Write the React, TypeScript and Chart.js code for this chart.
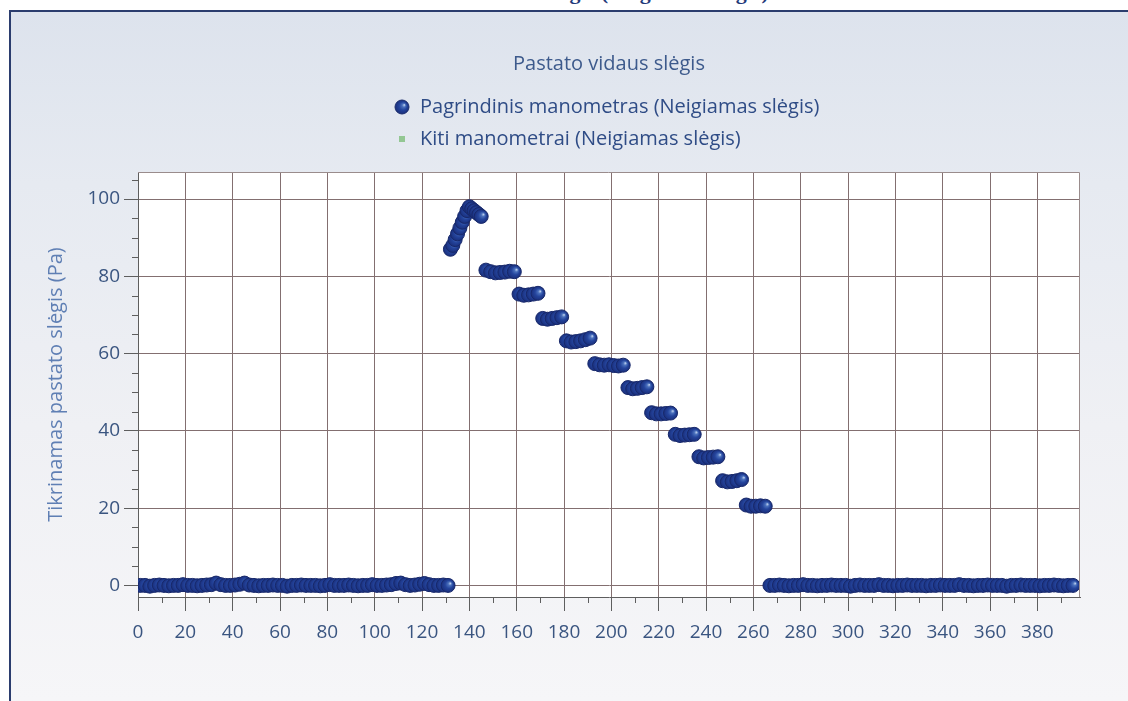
import React, { useEffect, useRef } from 'react';
import { Chart, registerables } from 'chart.js';

Chart.register(...registerables);

const pageHeading = 'Pastato vidaus slėgis (Neigiamas slėgis)';
const chartTitle = 'Pastato vidaus slėgis';
const yAxisTitle = 'Tikrinamas pastato slėgis (Pa)';
const seriesLabels = ['Pagrindinis manometras (Neigiamas slėgis)', 'Kiti manometrai (Neigiamas slėgis)'];

const xMajorTicks = [0, 20, 40, 60, 80, 100, 120, 140, 160, 180, 200, 220, 240, 260, 280, 300, 320, 340, 360, 380];
const xMinorTicks = [10, 30, 50, 70, 90, 110, 130, 150, 170, 190, 210, 230, 250, 270, 290, 310, 330, 350, 370, 390];
const yMajorTicks = [0, 20, 40, 60, 80, 100];
const yMinorTicks = [5, 10, 15, 25, 30, 35, 45, 50, 55, 65, 70, 75, 85, 90, 95, 105];

const timeValues = [
  1, 3, 5, 7, 9, 11, 13, 15, 17, 19, 21,
  23, 25, 27, 29, 31, 33, 35, 37, 39, 41, 43,
  45, 47, 49, 51, 53, 55, 57, 59, 61, 63, 65,
  67, 69, 71, 73, 75, 77, 79, 81, 83, 85, 87,
  89, 91, 93, 95, 97, 99, 101, 103, 105, 107, 109,
  111, 113, 115, 117, 119, 121, 123, 125, 127, 129, 131,
  132, 133, 134, 135, 136, 137, 138, 139, 140, 141, 142, 143, 144, 145,
  147, 149, 151, 153, 155, 157, 159,
  161, 163, 165, 167, 169,
  171, 173, 175, 177, 179,
  181, 183, 185, 187, 189, 191,
  193, 195, 197, 199, 201, 203, 205,
  207, 209, 211, 213, 215,
  217, 219, 221, 223, 225,
  227, 229, 231, 233, 235,
  237, 239, 241, 243, 245,
  247, 249, 251, 253, 255,
  257, 259, 261, 263, 265,
  267, 269, 271, 273, 275, 277, 279, 281, 283, 285, 287, 289, 291,
  293, 295, 297, 299, 301, 303, 305, 307, 309, 311, 313, 315, 317,
  319, 321, 323, 325, 327, 329, 331, 333, 335, 337, 339, 341, 343,
  345, 347, 349, 351, 353, 355, 357, 359, 361, 363, 365, 367, 369,
  371, 373, 375, 377, 379, 381, 383, 385, 387, 389, 391, 393, 395,
];

const mainPressure = [
  0, 0, -0.2, 0, 0.1, 0, -0.1, 0, 0, 0.2, 0,
  0, -0.1, 0, 0.1, 0.2, 0.6, 0.2, 0, 0, 0.1, 0.3,
  0.6, 0.1, 0, -0.1, 0, 0, 0.1, 0, 0, -0.2, 0,
  0, 0.1, 0, 0, 0, -0.1, 0, 0.2, 0, 0, 0,
  0.1, 0, -0.1, 0, 0, 0.2, 0, 0, 0.1, 0.2, 0.5,
  0.6, 0.2, 0, 0.1, 0.3, 0.5, 0.2, 0, 0, 0.1, 0,
  87, 88, 89.5, 91, 92.5, 94, 95.5, 97, 98, 97.5, 97, 96.5, 96, 95.5,
  81.6, 81.2, 80.9, 81, 81.1, 81.3, 81.2,
  75.4, 75.1, 75.2, 75.4, 75.6,
  69.1, 68.9, 69.1, 69.3, 69.5,
  63.3, 63, 63.1, 63.3, 63.6, 64,
  57.4, 57.1, 57, 57.1, 56.9, 56.8, 57,
  51.2, 50.9, 51, 51.2, 51.4,
  44.7, 44.4, 44.4, 44.5, 44.6,
  39.1, 38.8, 38.9, 39, 39.1,
  33.3, 33, 33.1, 33.2, 33.3,
  27.1, 26.8, 26.9, 27.1, 27.4,
  20.8, 20.5, 20.5, 20.6, 20.5,
  0, 0, 0.1, 0, -0.1, 0, 0, 0.2, 0, 0, -0.1, 0, 0,
  0.1, 0, 0, 0, -0.2, 0, 0.1, 0, 0, 0, 0.2, 0, 0,
  -0.1, 0, 0, 0.1, 0, 0, 0, -0.1, 0, 0, 0.1, 0, 0,
  0, 0.2, 0, 0, -0.1, 0, 0, 0.1, 0, 0, 0, -0.2, 0,
  0, 0.1, 0, 0, 0, -0.1, 0, 0, 0.1, 0, -0.1, 0, 0,
];

const otherPressure: number[] = [];

const FONT = "'Open Sans', 'DejaVu Sans', sans-serif";
const TICK_COLOR = '#3a5580';
const GRID_COLOR = '#836f70';
const POINT_FALLBACK = '#22429a';

function sphereGradient(ctx: CanvasRenderingContext2D, x: number, y: number, r: number) {
  const g = ctx.createRadialGradient(x + r * 0.35, y - r * 0.3, 0.3, x, y, r);
  g.addColorStop(0, '#b4c8ea');
  g.addColorStop(0.22, '#4a70bc');
  g.addColorStop(0.55, '#24449c');
  g.addColorStop(1, '#1a2f7c');
  return g;
}

const decorPlugin = {
  id: 'decor',
  beforeDraw(chart: any) {
    const { ctx, chartArea: a } = chart;
    ctx.save();
    ctx.fillStyle = '#ffffff';
    ctx.fillRect(a.left, a.top, a.right - a.left, a.bottom - a.top);
    ctx.restore();
  },
  afterDraw(chart: any) {
    const { ctx, chartArea: a, scales } = chart;
    ctx.save();
    ctx.strokeStyle = '#9a8c8c';
    ctx.lineWidth = 1;
    ctx.beginPath();
    ctx.moveTo(a.left, a.top + 0.5);
    ctx.lineTo(a.right - 0.5, a.top + 0.5);
    ctx.lineTo(a.right - 0.5, a.bottom);
    ctx.stroke();
    ctx.strokeStyle = '#5e5e5e';
    ctx.beginPath();
    xMinorTicks.forEach((v) => {
      const px = Math.round(scales.x.getPixelForValue(v)) + 0.5;
      ctx.moveTo(px, a.bottom);
      ctx.lineTo(px, a.bottom + 6);
    });
    yMinorTicks.forEach((v) => {
      const py = Math.round(scales.y.getPixelForValue(v)) + 0.5;
      ctx.moveTo(a.left - 6, py);
      ctx.lineTo(a.left, py);
    });
    ctx.stroke();

    const lx = 402;
    const rows = [107, 139];
    ctx.font = `20px ${FONT}`;
    ctx.textBaseline = 'middle';
    ctx.textAlign = 'left';
    chart.data.datasets.forEach((ds: any, i: number) => {
      const y = rows[i];
      if (i === 0) {
        ctx.beginPath();
        ctx.arc(lx, y, 7, 0, Math.PI * 2);
        ctx.fillStyle = sphereGradient(ctx, lx, y, 7);
        ctx.fill();
        ctx.strokeStyle = '#1a2c6c';
        ctx.lineWidth = 1;
        ctx.stroke();
      } else {
        ctx.fillStyle = '#93c793';
        ctx.fillRect(lx - 3, y - 3, 6, 6);
      }
      ctx.fillStyle = '#2f4c86';
      ctx.fillText(ds.label, 420, y);
    });
    ctx.restore();
  },
};

export default function App() {
  const canvasRef = useRef<HTMLCanvasElement | null>(null);

  useEffect(() => {
    const canvas = canvasRef.current;
    if (!canvas) return;
    const mainPoints = timeValues.map((t, i) => ({ x: t, y: mainPressure[i] }));
    const otherPoints = otherPressure.map((v, i) => ({ x: timeValues[i], y: v }));

    const chart = new Chart(canvas, {
      type: 'scatter',
      data: {
        datasets: [
          {
            label: seriesLabels[0],
            data: mainPoints,
            pointRadius: 7,
            pointHoverRadius: 7,
            pointBorderWidth: 1,
            pointBorderColor: '#17286a',
            pointBackgroundColor: (c: any) => {
              if (c.type !== 'data' || !c.parsed) return POINT_FALLBACK;
              const ch = c.chart;
              const sx = ch.scales && ch.scales.x;
              const sy = ch.scales && ch.scales.y;
              if (!sx || !sy) return POINT_FALLBACK;
              const x = sx.getPixelForValue(c.parsed.x);
              const y = sy.getPixelForValue(c.parsed.y);
              if (!Number.isFinite(x) || !Number.isFinite(y)) return POINT_FALLBACK;
              return sphereGradient(ch.ctx, x, y, 7);
            },
            clip: 0,
          } as any,
          {
            label: seriesLabels[1],
            data: otherPoints,
            pointStyle: 'rect',
            pointRadius: 3,
            pointBackgroundColor: '#93c793',
            pointBorderColor: '#93c793',
          } as any,
        ],
      },
      options: {
        responsive: false,
        animation: false,
        devicePixelRatio: 1,
        layout: { padding: { left: 40, right: 48, top: 0, bottom: 0 } },
        plugins: {
          legend: { display: false },
          tooltip: { enabled: false },
          title: {
            display: true,
            text: chartTitle,
            fullSize: false,
            color: '#3d5a8c',
            font: { family: FONT, size: 20, weight: 'normal', lineHeight: 1.2 },
            padding: { top: 52, bottom: 96 },
          },
        },
        scales: {
          x: {
            type: 'linear',
            min: 0,
            max: 398,
            afterFit: (s: any) => { s.height = 104; },
            afterBuildTicks: (s: any) => { s.ticks = xMajorTicks.map((v) => ({ value: v })); },
            ticks: {
              color: TICK_COLOR,
              font: { family: FONT, size: 19 },
              padding: 10,
              maxRotation: 0,
              autoSkip: false,
            },
            grid: { color: GRID_COLOR, lineWidth: 1, tickLength: 14, tickColor: '#5e5e5e' },
            border: { display: true, color: '#5e5e5e', width: 1 },
          },
          y: {
            type: 'linear',
            min: -3,
            max: 107,
            afterFit: (s: any) => { s.width = 98; },
            afterBuildTicks: (s: any) => { s.ticks = yMajorTicks.map((v) => ({ value: v })); },
            ticks: {
              color: TICK_COLOR,
              font: { family: FONT, size: 19 },
              padding: 4,
              autoSkip: false,
            },
            grid: { color: GRID_COLOR, lineWidth: 1, tickLength: 14, tickColor: '#5e5e5e' },
            border: { display: true, color: '#5e5e5e', width: 1 },
            title: {
              display: true,
              text: yAxisTitle,
              color: '#5f7fb4',
              font: { family: FONT, size: 20 },
              padding: { top: 4, bottom: 0 },
            },
          },
        },
      },
      plugins: [decorPlugin],
    });
    return () => chart.destroy();
  }, []);

  return (
    <div style={{ position: 'fixed', left: 0, top: 0, width: 1128, height: 701, overflow: 'hidden', background: '#ffffff' }}>
      <div
        style={{
          position: 'absolute',
          left: 9,
          top: 10,
          right: 0,
          bottom: 0,
          borderLeft: '2px solid #2b3d6e',
          borderTop: '2px solid #2b3d6e',
          background: 'linear-gradient(180deg, #dde3ed 0%, #e6eaf1 25%, #eff0f4 60%, #f6f6f8 100%)',
        }}
      />
      <div
        style={{
          position: 'absolute',
          left: 0,
          top: -19,
          width: 1172,
          textAlign: 'center',
          font: "bold 22px 'Liberation Serif', serif",
          lineHeight: '22px',
          color: '#1f3a7a',
          whiteSpace: 'nowrap',
        }}
      >
        {pageHeading}
      </div>
      <canvas ref={canvasRef} width={1128} height={701} style={{ position: 'absolute', left: 0, top: 0 }} />
    </div>
  );
}
